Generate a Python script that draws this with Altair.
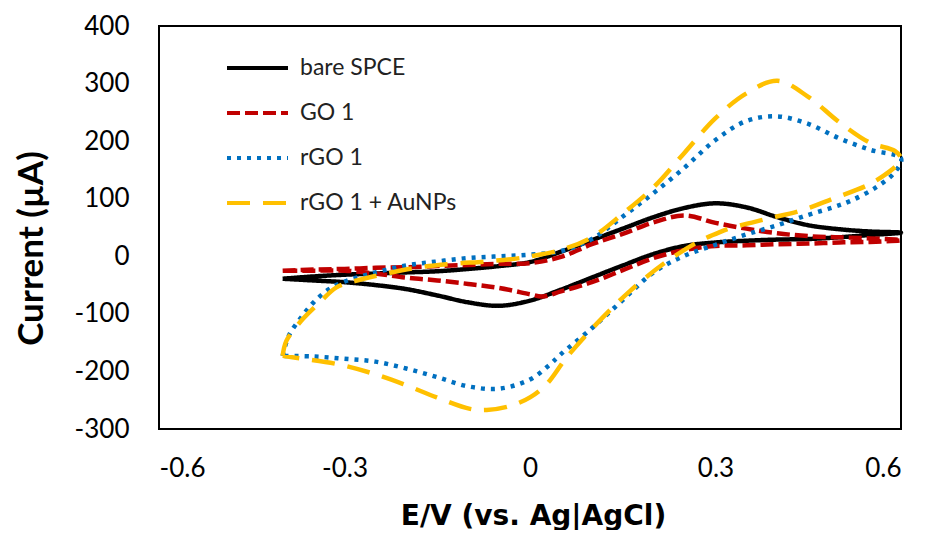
import altair as alt
import pandas as pd

# ---- data ----
series_names = ["bare SPCE", "GO 1", "rGO 1", "rGO 1 + AuNPs"]
series_colors = ["#000000", "#C00000", "#0070C0", "#FFC000"]
series_dashes = [[1, 0], [13, 5], [4, 6], [23, 13]]

x_ticks = [-0.6, -0.3, 0, 0.3, 0.6]
y_ticks = [-300, -200, -100, 0, 100, 200, 300, 400]

bare_E = [-0.40, -0.35, -0.30, -0.25, -0.20, -0.15, -0.10, -0.05, 0.00, 0.05, 0.10,
          0.15, 0.20, 0.25, 0.30, 0.35, 0.40, 0.45, 0.50, 0.55, 0.60,
          0.55, 0.50, 0.45, 0.40, 0.35, 0.30, 0.25, 0.20, 0.15, 0.10, 0.05, 0.00,
          -0.05, -0.10, -0.15, -0.20, -0.25, -0.30, -0.35, -0.40]
bare_I = [-39, -35, -32, -30, -28, -26, -22, -17, -10, 8, 28,
          48, 68, 84, 92, 85, 68, 54, 47, 43, 41,
          37, 33, 30, 29, 27, 24, 18, 4, -16, -37, -58, -77,
          -86, -80, -68, -57, -50, -45, -42, -39]

go_E = [-0.40, -0.35, -0.30, -0.25, -0.20, -0.15, -0.10, -0.05, 0.00, 0.05, 0.10,
        0.15, 0.20, 0.25, 0.30, 0.35, 0.40, 0.45, 0.50, 0.55, 0.60,
        0.55, 0.50, 0.45, 0.40, 0.35, 0.30, 0.25, 0.20, 0.15, 0.10, 0.05, 0.02, 0.00,
        -0.05, -0.10, -0.15, -0.20, -0.25, -0.30, -0.35, -0.40]
go_I = [-25, -23, -22, -20, -19, -17, -15, -13, -12, -1, 21,
        39, 59, 71, 58, 48, 40, 35, 33, 31, 28,
        25, 24, 22, 21, 19, 18, 11, -3, -24, -45, -61, -70, -66,
        -55, -48, -42, -37, -30, -25, -25, -25]

rgo_E = [-0.40, -0.39, -0.37, -0.35, -0.325, -0.30, -0.25, -0.20, -0.15, -0.10, -0.05,
         0.00, 0.05, 0.10, 0.15, 0.20, 0.25, 0.30, 0.35, 0.40, 0.45, 0.50, 0.55, 0.60,
         0.59, 0.56, 0.52, 0.49, 0.45, 0.40, 0.35, 0.30, 0.25, 0.20, 0.15, 0.10, 0.05,
         0.03, 0.00, -0.05, -0.10, -0.15, -0.20, -0.25, -0.30, -0.35, -0.40]
rgo_I = [-173, -138, -106, -80, -57, -44, -28, -16, -9, -3, 0,
         3, 9, 30, 69, 110, 154, 202, 235, 243, 230, 205, 185, 170,
         146, 120, 97, 85, 72, 54, 38, 20, 1, -28, -76, -125, -170,
         -190, -214, -230, -226, -210, -195, -183, -178, -174, -173]

au_E = [-0.40, -0.394, -0.37, -0.34, -0.313, -0.28, -0.232, -0.178, -0.124, -0.07, -0.016,
        0.00, 0.05, 0.10, 0.15, 0.20, 0.25, 0.30, 0.35, 0.40, 0.45, 0.50, 0.55, 0.59, 0.60,
        0.595, 0.572, 0.545, 0.49, 0.437, 0.383, 0.328, 0.307, 0.27, 0.216, 0.162, 0.108,
        0.059, 0.027, 0.00, -0.032, -0.07, -0.097, -0.151, -0.205, -0.259, -0.313, -0.367, -0.40]
au_I = [-173, -147, -112, -80, -54, -42, -30, -19, -13, -9, -3,
        0, 11, 33, 74, 120, 180, 240, 283, 305, 277, 233, 197, 183, 170,
        160, 140, 123, 100, 79, 65, 50, 42, 24, -13, -60, -117,
        -176, -222, -245, -260, -267, -265, -245, -222, -202, -187, -178, -173]

rows = []
for name, E, I in zip(series_names, [bare_E, go_E, rgo_E, au_E], [bare_I, go_I, rgo_I, au_I]):
    for k, (e, i) in enumerate(zip(E, I)):
        rows.append({"series": name, "idx": k, "E": e, "I": i})
df = pd.DataFrame(rows)

legend = alt.Legend(
    title=None, orient="none", legendX=66, legendY=9.5,
    symbolType="stroke", symbolSize=3721, symbolStrokeWidth=4,
    labelFont="Lato", labelFontSize=23, labelColor="#222222", labelOffset=10,
    rowPadding=0, padding=0,
)

chart = alt.Chart(df).mark_line(
    strokeWidth=4.5, strokeJoin="round", interpolate="catmull-rom"
).encode(
    x=alt.X("E:Q",
            scale=alt.Scale(domain=[-0.6, 0.6], nice=False, zero=False),
            axis=alt.Axis(values=x_ticks, labelExpr="'' + datum.value",
                          title="E/V (vs. Ag|AgCl)", labelPadding=26,
                          titleFont="DejaVu Sans", titleFontSize=28, titleFontWeight="bold",
                          titleColor="#000000", titleX=374, titleY=87,
                          titleAlign="center", titleBaseline="middle")),
    y=alt.Y("I:Q",
            scale=alt.Scale(domain=[-300, 400], nice=False, zero=False),
            axis=alt.Axis(values=y_ticks, labelExpr="'' + datum.value",
                          title="Current (µA)", labelPadding=30,
                          titleFont="Lato", titleFontSize=35, titleFontWeight="bold",
                          titleColor="#000000", titleX=-128, titleY=222,
                          titleAngle=270, titleAlign="center", titleBaseline="middle")),
    color=alt.Color("series:N", scale=alt.Scale(domain=series_names, range=series_colors),
                    legend=legend),
    strokeDash=alt.StrokeDash("series:N", scale=alt.Scale(domain=series_names, range=series_dashes),
                              legend=legend),
    order=alt.Order("idx:Q"),
).properties(
    width=742, height=403,
    autosize=alt.AutoSizeParams(type="none"),
    padding={"left": 151, "top": 18, "right": 16, "bottom": 101},
).configure_view(
    stroke="#000000", strokeWidth=2
).configure_axis(
    domain=False, ticks=False, tickSize=0, grid=False,
    labelFont="Lato", labelFontSize=26, labelColor="#000000",
)

chart.save("out.html", embed_options={"renderer": "svg", "actions": False})
